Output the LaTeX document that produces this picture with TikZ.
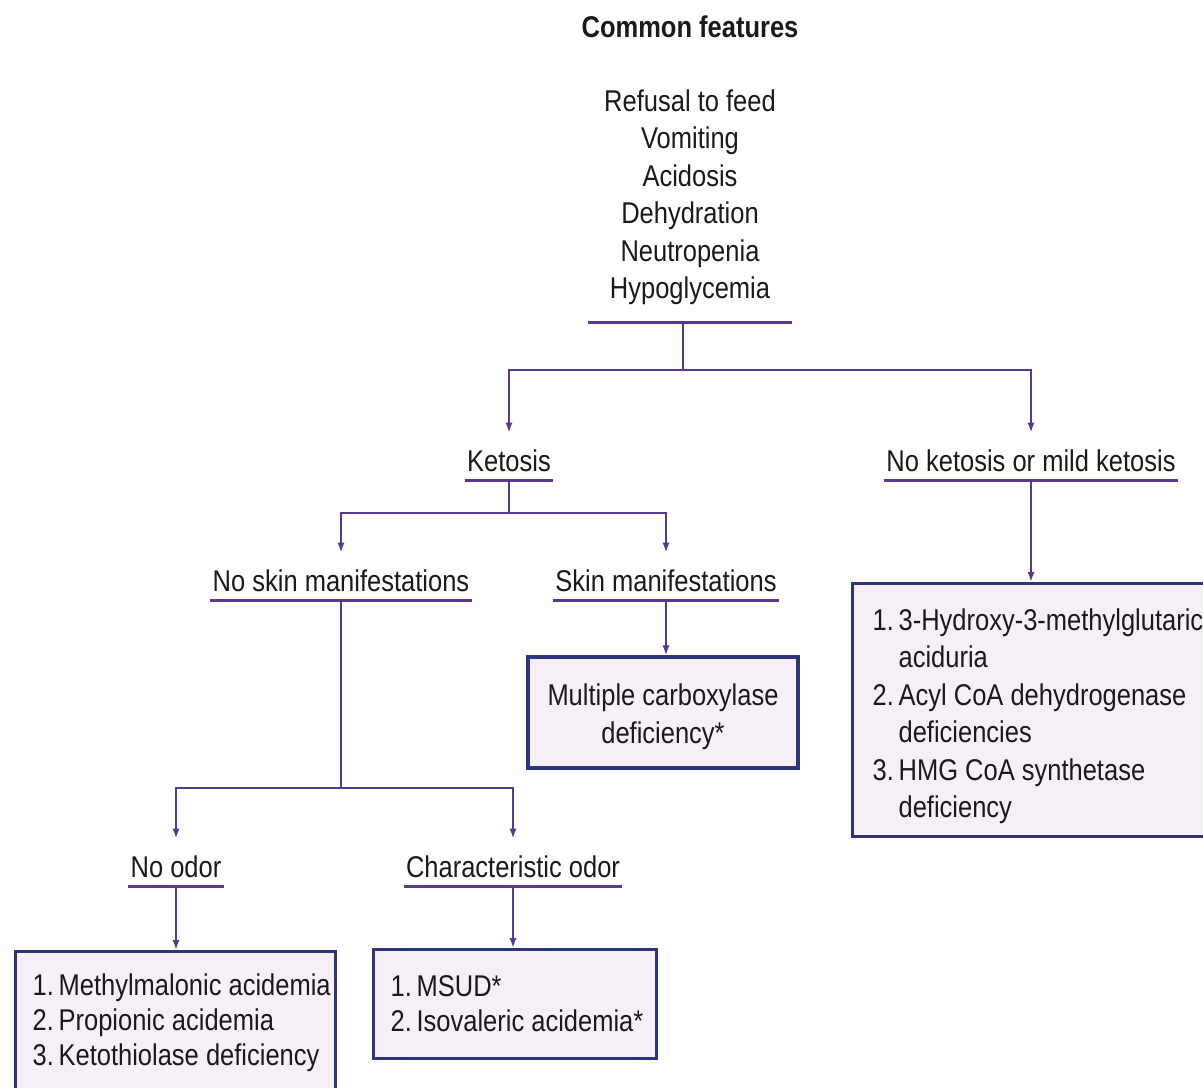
\documentclass[tikz,border=0pt]{standalone}
\usepackage{fontspec}
\setmainfont{Liberation Sans}[FakeStretch=0.85]
\usetikzlibrary{arrows.meta}
\definecolor{linec}{HTML}{553A8C}
\definecolor{ulc}{HTML}{5B3A8E}
\definecolor{boxb}{HTML}{2F3579}
\definecolor{boxf}{HTML}{F7EFF8}
\definecolor{txt}{HTML}{1A1A1A}
% one list line of fixed width: number column + text
\newcommand\dxrow[3]{\makebox[#1][l]{\makebox[13pt][l]{#2}#3}}
\begin{document}
\begin{tikzpicture}[x=0.5pt,y=-0.5pt,
  every node/.style={text=txt, font=\fontsize{15}{18.75}\selectfont\frenchspacing},
  lbl/.style={anchor=base, inner xsep=1pt, inner ysep=1.5pt, text height=17.5pt, text depth=3pt},
  ul/.style={draw=ulc, line width=1.5pt},
  wire/.style={draw=linec, line width=1.1pt},
  conn/.style={wire, -{Latex[length=5pt,width=3.6pt]}},
  dxbox/.style={draw=boxb, fill=boxf, line width=1.6pt, inner sep=0pt},
  lbox/.style={dxbox, align=left, anchor=north west},
  tight/.style={font=\fontsize{15}{17.5}\selectfont\frenchspacing},
]
\useasboundingbox (0,0) rectangle (1203,1087);
\clip (0,0) rectangle (1203,1087);
\fill[white] (0,0) rectangle (1203,1087);

% title and common features
\node (title) at (690,27) {\bfseries Common features};
\node[anchor=north, inner sep=0pt, align=center] (feat) at (690,89)
  {Refusal to feed\\Vomiting\\Acidosis\\Dehydration\\Neutropenia\\Hypoglycemia};
\coordinate (featbar) at (683,322);
\draw[ul] (588,322) -- (792,322);
\coordinate (j1) at (683,370);

% labels
\node[lbl] (ket) at (509,471) {Ketosis};
\node[lbl] (noket) at (1031,471) {No ketosis or mild ketosis};
\node[lbl] (noskin) at (341,591) {No skin manifestations};
\node[lbl] (skin) at (666,591) {Skin manifestations};
\node[lbl] (noodor) at (176,877) {No odor};
\node[lbl] (charodor) at (513,877) {Characteristic odor};

\foreach \n in {ket,noket,noskin,skin,noodor,charodor}
  \draw[ul] (\n.south west) -- (\n.south east);

% boxes
\node[lbox, inner xsep=10pt, minimum height=126.5pt] (rbox) at (851,582)
  {\rule{0pt}{17pt}\dxrow{180pt}{1.}{3-Hydroxy-3-methylglutaric}\\
   \dxrow{180pt}{}{aciduria}\\
   \dxrow{180pt}{2.}{Acyl CoA dehydrogenase}\\
   \dxrow{180pt}{}{deficiencies}\\
   \dxrow{180pt}{3.}{HMG CoA synthetase}\\
   \dxrow{180pt}{}{deficiency}};
\node[dxbox, align=center, minimum width=135pt, minimum height=55.5pt] (mcd) at (663,712.5)
  {\rule{0pt}{15pt}Multiple carboxylase\\deficiency*};
\node[lbox, tight, inner xsep=8.5pt, minimum height=71pt] (nobox) at (14,950)
  {\dxrow{143pt}{1.}{Methylmalonic acidemia}\\
   \dxrow{143pt}{2.}{Propionic acidemia}\\
   \dxrow{143pt}{3.}{Ketothiolase deficiency}};
\node[lbox, tight, inner xsep=8.5pt, minimum height=54.5pt] (odbox) at (372,948)
  {\dxrow{124.5pt}{1.}{MSUD*}\\
   \dxrow{124.5pt}{2.}{Isovaleric acidemia*}};

% connectors
\draw[wire] (featbar) -- (j1);
\draw[conn] (j1) -| (ket.north);
\draw[conn] (j1) -| (noket.north);
\coordinate (j2) at (ket.south |- 0,513);
\draw[wire] (ket.south) -- (j2);
\draw[conn] (j2) -| (noskin.north);
\draw[conn] (j2) -| (skin.north);
\draw[conn] (noket.south) -- (noket.south |- rbox.north);
\draw[conn] (skin.south) -- (skin.south |- mcd.north);
\coordinate (j3) at (noskin.south |- 0,788);
\draw[wire] (noskin.south) -- (j3);
\draw[conn] (j3) -| (noodor.north);
\draw[conn] (j3) -| (charodor.north);
\draw[conn] (noodor.south) -- (noodor.south |- nobox.north);
\draw[conn] (charodor.south) -- (charodor.south |- odbox.north);
\end{tikzpicture}
\end{document}
